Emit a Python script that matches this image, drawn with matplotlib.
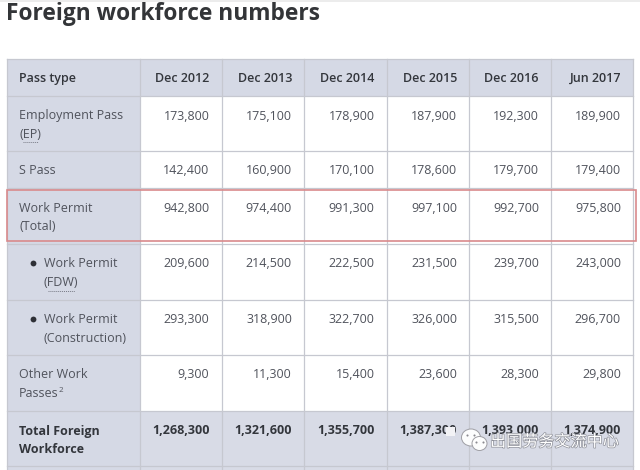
#!/usr/bin/env python3

import matplotlib
matplotlib.use("Agg")
import matplotlib.pyplot as plt
import matplotlib.patheffects as pe
from matplotlib.patches import Ellipse, Rectangle

plt.rcParams["font.family"] = ["Open Sans", "DejaVu Sans"]

# Table contents
title = "Foreign workforce numbers"
periods = ["Dec 2012", "Dec 2013", "Dec 2014", "Dec 2015", "Dec 2016", "Jun 2017"]
pass_types = [
    "Employment Pass\n(EP)",
    "S Pass",
    "Work Permit\n(Total)",
    "Work Permit\n(FDW)",
    "Work Permit\n(Construction)",
    "Other Work\nPasses",
    "Total Foreign\nWorkforce",
]
ep = ["173,800", "175,100", "178,900", "187,900", "192,300", "189,900"]
s_pass = ["142,400", "160,900", "170,100", "178,600", "179,700", "179,400"]
wp_total = ["942,800", "974,400", "991,300", "997,100", "992,700", "975,800"]
wp_fdw = ["209,600", "214,500", "222,500", "231,500", "239,700", "243,000"]
wp_construction = ["293,300", "318,900", "322,700", "326,000", "315,500", "296,700"]
other = ["9,300", "11,300", "15,400", "23,600", "28,300", "29,800"]
total = ["1,268,300", "1,321,600", "1,355,700", "1,387,300", "1,393,000", "1,374,900"]
watermark = "出国劳务交流中心"

rows = [ep, s_pass, wp_total, wp_fdw, wp_construction, other, total]

# Layout in image pixels
col_edges = [6.5, 139.5, 221.5, 304, 386.5, 469, 551, 633]
row_edges = [59, 96, 151, 188, 243.5, 299.5, 355, 411, 466]
HEAD_BG = "#d5d9e5"
TOTAL_BG = "#d8dbe6"
GRID = "#c6c8d0"
TEXT = "#50535c"
DARK = "#33363c"
FS = 9.0

fig = plt.figure(figsize=(6.4, 4.7), dpi=100)
ax = fig.add_axes([0, 0, 1, 1])
ax.set_xlim(0, 640)
ax.set_ylim(470, 0)
ax.axis("off")

# faint band left by the screenshot
ax.add_patch(Rectangle((0, 0), 640, 2, color="#ececec", lw=0))

ax.text(6.5, 14, title, fontsize=16.4, fontweight="bold", color="#333538",
        ha="left", va="center")

# Backgrounds
ax.add_patch(Rectangle((col_edges[0], row_edges[0]), col_edges[-1] - col_edges[0],
                       row_edges[1] - row_edges[0], color=HEAD_BG, lw=0))
ax.add_patch(Rectangle((col_edges[0], row_edges[1]), col_edges[1] - col_edges[0],
                       470 - row_edges[1], color=HEAD_BG, lw=0))
ax.add_patch(Rectangle((col_edges[1], row_edges[7]), col_edges[-1] - col_edges[1],
                       470 - row_edges[7], color=TOTAL_BG, lw=0))

# Grid lines
for x in col_edges:
    ax.plot([x, x], [row_edges[0], 470], color=GRID, lw=0.9, zorder=2)
for y in row_edges:
    ax.plot([col_edges[0], col_edges[-1]], [y, y], color=GRID, lw=0.9, zorder=2)

# Header
ax.text(19, 78.7, "Pass type", fontsize=FS, fontweight="semibold", color=DARK,
        ha="left", va="center")
for i, period in enumerate(periods):
    ax.text(col_edges[i + 2] - 12, 78.7, period, fontsize=FS, fontweight="semibold",
            color=DARK, ha="right", va="center")

# Body rows
for r, (label, values) in enumerate(zip(pass_types, rows)):
    top = row_edges[r + 1]
    is_total = r == len(rows) - 1
    weight = "bold" if is_total else "normal"
    color = DARK if is_total else TEXT
    indent = r in (3, 4)
    lx = 44 if indent else 19
    for n, part in enumerate(label.split("\n")):
        ax.text(lx, top + 20 + n * 18.7, part, fontsize=FS, fontweight=weight,
                color=color, ha="left", va="center")
    if indent:
        ax.plot([33], [top + 19.5], "o", ms=4.2, color="#2e3036", mew=0)
    for i, value in enumerate(values):
        ax.text(col_edges[i + 2] - 12, top + 20, value, fontsize=FS, fontweight=weight,
                color=color, ha="right", va="center")

# Footnote mark and dotted abbreviation underlines
ax.text(59, row_edges[6] + 35, "2", fontsize=5.8, color=TEXT, ha="left", va="center")
ax.plot([23, 38], [141.5, 141.5], color="#777a85", lw=0.7, ls=(0, (1, 1)))
ax.plot([48, 75], [290.5, 290.5], color="#777a85", lw=0.7, ls=(0, (1, 1)))

# Red highlight around the Work Permit (Total) row
ax.add_patch(Rectangle((6.5, 189.5), 629.5, 51.5, fill=False, ec="#d98a8c", lw=1.2, zorder=4))

# Small patch covering part of the 1,387,300 figure, as in the source
ax.add_patch(Rectangle((446, 427), 9, 9, color="#f2f2f5", lw=0, zorder=4))

# WeChat style watermark
for cx, cy, w, h in [(471, 437.5, 19, 17), (479.5, 443.5, 15, 14)]:
    ax.add_patch(Ellipse((cx, cy), w, h, fc="white", ec="#9a9aa0", lw=0.7, alpha=0.95, zorder=5))
for cx, cy in [(467, 435), (474, 435), (476, 442), (483, 442)]:
    ax.plot([cx], [cy], "o", ms=1.5, color="#8a8a90", mew=0, zorder=6)
ax.text(554.5, 442, watermark, fontsize=11.6, color="white", ha="center", va="center",
        family=["Noto Sans CJK SC", "DejaVu Sans"], zorder=6,
        path_effects=[pe.withStroke(linewidth=1.0, foreground="#8f919a")])

fig.savefig("out.png", dpi=100)
plt.close(fig)
